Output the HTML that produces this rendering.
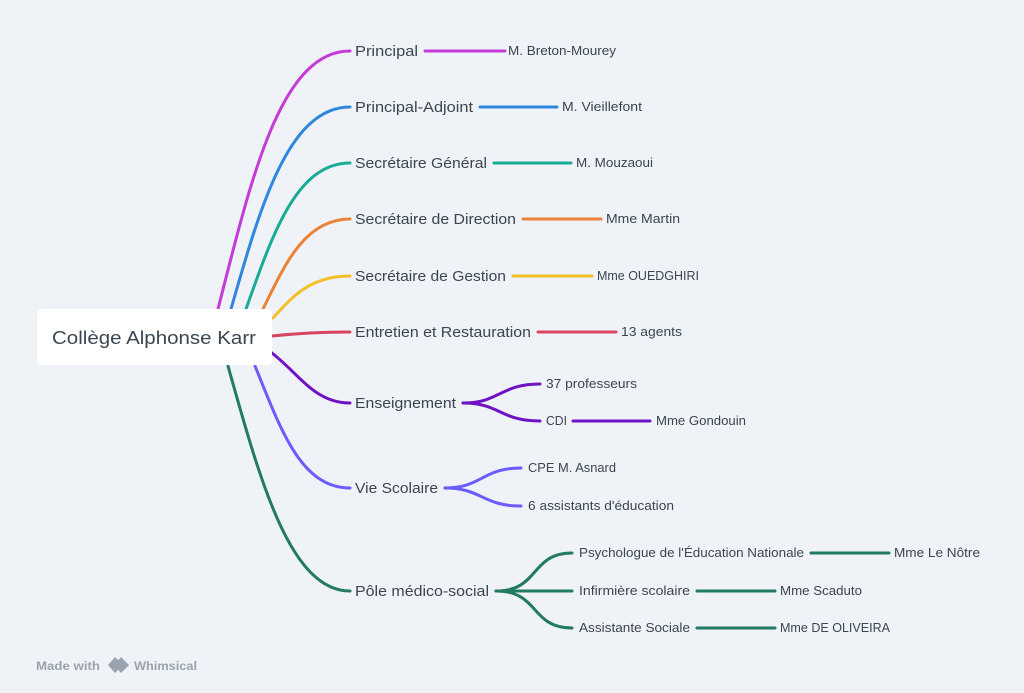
<!DOCTYPE html>
<html><head><meta charset="utf-8"><style>
html,body{margin:0;padding:0;background:#eff2f6;}
svg{display:block;font-family:"Liberation Sans",sans-serif;}
text{fill:#3b4652;}
</style></head><body>
<svg width="1024" height="693" viewBox="0 0 1024 693" xmlns="http://www.w3.org/2000/svg">
<rect width="1024" height="693" fill="#eff2f6"/>
<g fill="none" stroke-width="3" stroke-linecap="round">
<!-- root branches -->
<path d="M218 309 C 251 180, 280 51, 350 51" stroke="#c43bd8"/>
<path d="M231 309 C 260 208, 288 107, 350 107" stroke="#2f86dd"/>
<path d="M246 309 C 272 236, 296 163, 350 163" stroke="#1aab97"/>
<path d="M263 309 C 285 264, 305 219, 350 219" stroke="#ea8338"/>
<path d="M273 318 C 292 297, 310 276, 350 276" stroke="#f4c02a"/>
<path d="M272 336 C 300 333, 320 332, 350 332" stroke="#d9455f"/>
<path d="M272 353 C 300 375, 315 403, 350 403" stroke="#6f12c4"/>
<path d="M255 366 C 280 427, 300 488, 350 488" stroke="#6b5cff"/>
<path d="M228 366 C 260 480, 290 591, 350 591" stroke="#227a62"/>
<!-- leaf lines -->
<path d="M425 51 H505" stroke="#c43bd8"/>
<path d="M480 107 H557" stroke="#2f86dd"/>
<path d="M494 163 H571" stroke="#1aab97"/>
<path d="M523 219 H601" stroke="#ea8338"/>
<path d="M513 276 H592" stroke="#f4c02a"/>
<path d="M538 332 H616" stroke="#d9455f"/>
<path d="M463 403 C 500 403, 500 384, 540 384" stroke="#6f12c4"/>
<path d="M463 403 C 500 403, 500 421, 540 421" stroke="#6f12c4"/>
<path d="M573 421 H650" stroke="#6f12c4"/>
<path d="M445 488 C 482 488, 482 468, 521 468" stroke="#6b5cff"/>
<path d="M445 488 C 482 488, 482 506, 521 506" stroke="#6b5cff"/>
<path d="M496 591 C 540 591, 530 553, 572 553" stroke="#227a62"/>
<path d="M496 591 H572" stroke="#227a62"/>
<path d="M496 591 C 540 591, 530 628, 572 628" stroke="#227a62"/>
<path d="M811 553 H889" stroke="#227a62"/>
<path d="M697 591 H775" stroke="#227a62"/>
<path d="M697 628 H775" stroke="#227a62"/>
</g>
<rect x="37" y="309" width="235" height="56" rx="4" fill="#fff"/>
<text x="52" y="344" font-size="18" textLength="204" lengthAdjust="spacingAndGlyphs">Collège Alphonse Karr</text>
<g font-size="14.5">
<text x="355" y="56" textLength="63" lengthAdjust="spacingAndGlyphs">Principal</text>
<text x="355" y="112" textLength="118" lengthAdjust="spacingAndGlyphs">Principal-Adjoint</text>
<text x="355" y="168" textLength="132" lengthAdjust="spacingAndGlyphs">Secrétaire Général</text>
<text x="355" y="224" textLength="161" lengthAdjust="spacingAndGlyphs">Secrétaire de Direction</text>
<text x="355" y="281" textLength="151" lengthAdjust="spacingAndGlyphs">Secrétaire de Gestion</text>
<text x="355" y="337" textLength="176" lengthAdjust="spacingAndGlyphs">Entretien et Restauration</text>
<text x="355" y="408" textLength="101" lengthAdjust="spacingAndGlyphs">Enseignement</text>
<text x="355" y="493" textLength="83" lengthAdjust="spacingAndGlyphs">Vie Scolaire</text>
<text x="355" y="596" textLength="134" lengthAdjust="spacingAndGlyphs">Pôle médico-social</text>
</g>
<g font-size="12.5">
<text x="508" y="55" textLength="108" lengthAdjust="spacingAndGlyphs">M. Breton-Mourey</text>
<text x="562" y="111" textLength="80" lengthAdjust="spacingAndGlyphs">M. Vieillefont</text>
<text x="576" y="167" textLength="77" lengthAdjust="spacingAndGlyphs">M. Mouzaoui</text>
<text x="606" y="223" textLength="74" lengthAdjust="spacingAndGlyphs">Mme Martin</text>
<text x="597" y="280" textLength="102" lengthAdjust="spacingAndGlyphs">Mme OUEDGHIRI</text>
<text x="621" y="336" textLength="61" lengthAdjust="spacingAndGlyphs">13 agents</text>
<text x="546" y="388" textLength="91" lengthAdjust="spacingAndGlyphs">37 professeurs</text>
<text x="546" y="425" textLength="21" lengthAdjust="spacingAndGlyphs">CDI</text>
<text x="656" y="425" textLength="90" lengthAdjust="spacingAndGlyphs">Mme Gondouin</text>
<text x="528" y="472" textLength="88" lengthAdjust="spacingAndGlyphs">CPE M. Asnard</text>
<text x="528" y="510" textLength="146" lengthAdjust="spacingAndGlyphs">6 assistants d'éducation</text>
<text x="579" y="557" textLength="225" lengthAdjust="spacingAndGlyphs">Psychologue de l'Éducation Nationale</text>
<text x="579" y="595" textLength="111" lengthAdjust="spacingAndGlyphs">Infirmière scolaire</text>
<text x="579" y="632" textLength="111" lengthAdjust="spacingAndGlyphs">Assistante Sociale</text>
<text x="894" y="557" textLength="86" lengthAdjust="spacingAndGlyphs">Mme Le Nôtre</text>
<text x="780" y="595" textLength="82" lengthAdjust="spacingAndGlyphs">Mme Scaduto</text>
<text x="780" y="632" textLength="110" lengthAdjust="spacingAndGlyphs">Mme DE OLIVEIRA</text>
</g>
<g fill="#9aa3ae">
<text x="36" y="670" font-size="12" font-weight="bold" style="fill:#9aa3ae" textLength="64" lengthAdjust="spacingAndGlyphs">Made with</text>
<path d="M115 657 l-7 8 l7 8 l4 -4 l-3 -4 l3 -4z"/>
<path d="M121 657 l8 8 l-8 8 l-7 -8z"/>
<text x="134" y="670" font-size="12" font-weight="bold" style="fill:#9aa3ae" textLength="63" lengthAdjust="spacingAndGlyphs">Whimsical</text>
</g>
</svg>
</body></html>
